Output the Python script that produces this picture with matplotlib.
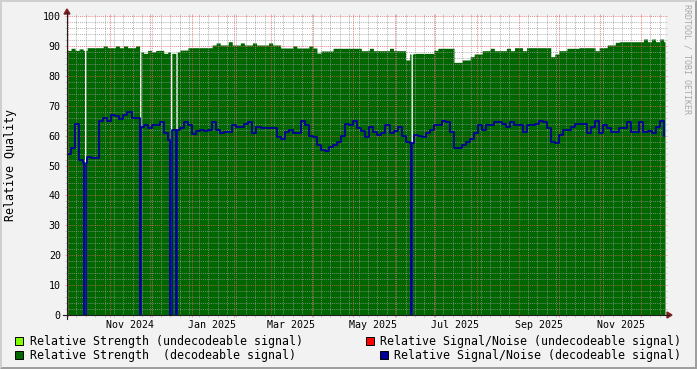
import matplotlib
matplotlib.use('Agg')
import matplotlib.pyplot as plt
import matplotlib.dates as mdates
from matplotlib.ticker import MultipleLocator
from matplotlib.patches import Polygon, Rectangle
from matplotlib.lines import Line2D
import pandas as pd

# --- data (one value every 3 days) ---
start = pd.Timestamp('2024-09-30')
end = pd.Timestamp('2025-12-19')

strength = [88.5, 89.2, 88.5, 89.0, 88.5, 89.4, 89.4, 89.4, 89.4, 90.0,
            89.4, 89.4, 90.0, 89.4, 90.0, 89.4, 89.4, 90.0, 88.0, 87.5,
            88.5, 88.0, 88.5, 88.5, 87.5, 88.0, 87.5, 88.0, 88.6, 88.6,
            89.4, 89.4, 89.4, 89.4, 89.4, 89.4, 90.3, 91.0, 90.3, 90.3,
            91.4, 90.3, 90.3, 91.0, 90.3, 90.3, 91.0, 90.3, 90.3, 90.3,
            91.0, 90.3, 90.3, 89.3, 89.3, 89.3, 90.0, 89.3, 89.3, 89.3,
            90.0, 89.3, 87.6, 88.3, 88.3, 88.3, 89.2, 89.2, 89.2, 89.2,
            89.2, 89.2, 89.2, 88.4, 88.4, 89.2, 88.4, 88.4, 88.4, 88.4,
            89.2, 88.4, 88.4, 88.4, 85.3, 87.3, 87.5, 87.5, 87.5, 87.5,
            87.5, 88.5, 89.2, 89.2, 89.2, 89.2, 84.5, 84.5, 85.3, 85.3,
            86.4, 87.3, 87.3, 88.4, 88.4, 89.2, 88.4, 88.4, 88.4, 89.2,
            88.4, 89.4, 89.4, 88.4, 89.4, 89.4, 89.4, 89.4, 89.4, 89.4,
            86.4, 87.3, 88.4, 88.4, 89.2, 89.2, 89.2, 89.4, 89.4, 89.4,
            89.4, 88.4, 89.4, 89.4, 90.3, 90.3, 91.2, 91.4, 91.4, 91.4,
            91.4, 91.4, 91.4, 92.3, 91.4, 92.3, 91.4, 92.3, 91.4]

snr = [54.0, 56.0, 64.0, 52.0, 51.0, 53.0, 52.5, 52.5, 65.0, 66.0,
       65.0, 67.0, 66.5, 65.5, 67.0, 68.0, 66.0, 66.0, 63.0, 63.5,
       62.5, 63.5, 63.5, 64.5, 61.0, 58.5, 61.8, 61.8, 62.4, 64.5,
       63.5, 60.5, 61.5, 62.0, 61.5, 62.0, 64.5, 62.0, 61.0, 61.3,
       61.3, 63.5, 63.0, 63.0, 64.0, 64.6, 61.0, 63.0, 62.5, 62.4,
       62.4, 62.4, 59.5, 59.0, 61.3, 62.0, 61.0, 61.0, 64.9, 63.5,
       60.0, 59.5, 57.0, 55.3, 55.0, 56.3, 56.9, 58.0, 60.0, 64.0,
       63.5, 65.0, 62.5, 61.5, 59.6, 63.0, 61.3, 60.2, 61.0, 63.7,
       61.0, 61.5, 63.0, 60.0, 58.0, 57.5, 60.2, 60.0, 59.6, 60.8,
       62.0, 63.5, 63.5, 64.9, 64.5, 61.3, 56.0, 56.0, 57.0, 58.0,
       59.0, 60.8, 63.5, 62.0, 63.5, 63.5, 64.5, 64.5, 64.0, 63.0,
       64.5, 63.5, 63.5, 61.3, 63.7, 63.7, 64.0, 64.9, 64.5, 62.4,
       58.0, 57.5, 60.2, 62.0, 62.0, 63.0, 64.0, 64.0, 64.0, 61.0,
       63.0, 64.9, 61.0, 63.5, 62.5, 61.3, 61.3, 62.4, 62.4, 64.6,
       61.3, 61.3, 64.5, 61.3, 61.5, 61.0, 63.0, 65.0, 60.0]

# days with no decodeable data (both series drop to 0)
outages = pd.to_datetime(['2024-10-13', '2024-11-23', '2024-12-16',
                          '2024-12-20', '2025-06-13'])

label_months = pd.to_datetime(['2024-11-01', '2025-01-01', '2025-03-01',
                               '2025-05-01', '2025-07-01', '2025-09-01',
                               '2025-11-01'])

legend_items = [
    ('Relative Strength (undecodeable signal)', '#80FF00'),
    ('Relative Strength  (decodeable signal)', '#006600'),
    ('Relative Signal/Noise (undecodeable signal)', '#FF0000'),
    ('Relative Signal/Noise (decodeable signal)', '#000099'),
]

sample_dates = pd.date_range(start, periods=len(strength), freq='3D')
days = pd.date_range(start, end, freq='D')
s_str = pd.Series(strength, index=sample_dates).reindex(days, method='ffill')
s_snr = pd.Series(snr, index=sample_dates).reindex(days, method='ffill')
s_str[outages] = 0
s_snr[outages] = 0

# --- figure ---
W, H = 697, 369
MONO = 'DejaVu Sans Mono'
BACK = '#F2F2F2'
GRID = (0.6, 0.6, 0.6, 0.45)
MGRID = (0.9, 0.35, 0.35, 0.5)
ARROW = '#801F1F'
AXIS = '#1F1F1F'


def fx(px):
    return px / W


def fy(py):
    return 1 - py / H


fig = plt.figure(figsize=(W / 100, H / 100), dpi=100, facecolor=BACK)
ax = fig.add_axes([fx(67), fy(315), 598 / W, 299 / H])
ax.set_facecolor('white')
ax.set_xlim(start, end)
ax.set_ylim(0, 100)
for sp in ax.spines.values():
    sp.set_visible(False)

ax.fill_between(days, 0, s_str.values, step='post', color='#006600',
                lw=0, zorder=1)
ax.plot(days, s_snr.values, drawstyle='steps-post', color='#000099',
        lw=1.3, zorder=4)

ax.yaxis.set_major_locator(MultipleLocator(10))
ax.yaxis.set_minor_locator(MultipleLocator(2))
ax.xaxis.set_major_locator(mdates.MonthLocator())
ax.xaxis.set_minor_locator(mdates.WeekdayLocator(byweekday=mdates.MO))

ax.set_axisbelow(False)
ax.grid(which='major', color=MGRID, lw=0.5, ls=(0, (1.5, 1.5)), zorder=3)
ax.grid(which='minor', color=GRID, lw=0.5, ls=(0, (1.5, 1.5)), zorder=3)
ax.tick_params(which='major', direction='out', length=1.5, width=0.72,
               color=MGRID, left=True, right=True, top=True, bottom=True,
               labelbottom=False, labelsize=7.2, pad=3)
ax.tick_params(which='minor', direction='out', length=1.5, width=0.72,
               color=GRID, left=True, right=True, top=True, bottom=True)
for lab in ax.get_yticklabels():
    lab.set_fontfamily(MONO)

xlab_tr = ax.get_xaxis_transform()
for m in label_months:
    ax.text(m + pd.Timedelta(days=15), -9.5 / 299, m.strftime('%b %Y'),
            transform=xlab_tr, ha='center', va='center', fontsize=7.2,
            family=MONO)

# axes with arrows
fig.add_artist(Line2D([fx(63), fx(669)], [fy(315), fy(315)], color=AXIS,
                      lw=0.8, transform=fig.transFigure))
fig.add_artist(Line2D([fx(67), fx(67)], [fy(319), fy(12)], color=AXIS,
                      lw=0.8, transform=fig.transFigure))
fig.add_artist(Polygon([(fx(667), fy(312)), (fx(667), fy(318)),
                        (fx(672), fy(315))], closed=True, color=ARROW,
                       transform=fig.transFigure))
fig.add_artist(Polygon([(fx(64), fy(14)), (fx(70), fy(14)),
                        (fx(67), fy(9))], closed=True, color=ARROW,
                       transform=fig.transFigure))

# shaded frame
fig.add_artist(Polygon([(fx(0), fy(H)), (fx(2), fy(H - 2)), (fx(2), fy(2)),
                        (fx(W - 2), fy(2)), (fx(W), fy(0)), (fx(0), fy(0))],
                       closed=True, color='#CFCFCF', lw=0,
                       transform=fig.transFigure))
fig.add_artist(Polygon([(fx(2), fy(H - 2)), (fx(W - 2), fy(H - 2)),
                        (fx(W - 2), fy(2)), (fx(W), fy(0)), (fx(W), fy(H)),
                        (fx(0), fy(H))],
                       closed=True, color='#9E9E9E', lw=0,
                       transform=fig.transFigure))

fig.text(fx(11), fy(165), 'Relative Quality', rotation=90, ha='center',
         va='center', fontsize=8.4, family=MONO)
fig.text(fx(687), fy(4), 'RRDTOOL / TOBI OETIKER', rotation=270,
         ha='center', va='top', fontsize=6, family=MONO, color='#A8A8A8')

# legend
legend_pos = [(15, 337, 30), (15, 351, 30), (366, 337, 380), (380, 351, 394)]
for (label, col), (bx, by, tx) in zip(legend_items, legend_pos):
    fig.add_artist(Rectangle((fx(bx), fy(by + 8)), 8 / W, 8 / H,
                             facecolor=col, edgecolor='black', lw=0.7,
                             transform=fig.transFigure))
    fig.text(fx(tx), fy(by + 4.5), label, ha='left', va='center',
             fontsize=8.4, family=MONO)

fig.savefig('out.png', dpi=100, facecolor=BACK)
